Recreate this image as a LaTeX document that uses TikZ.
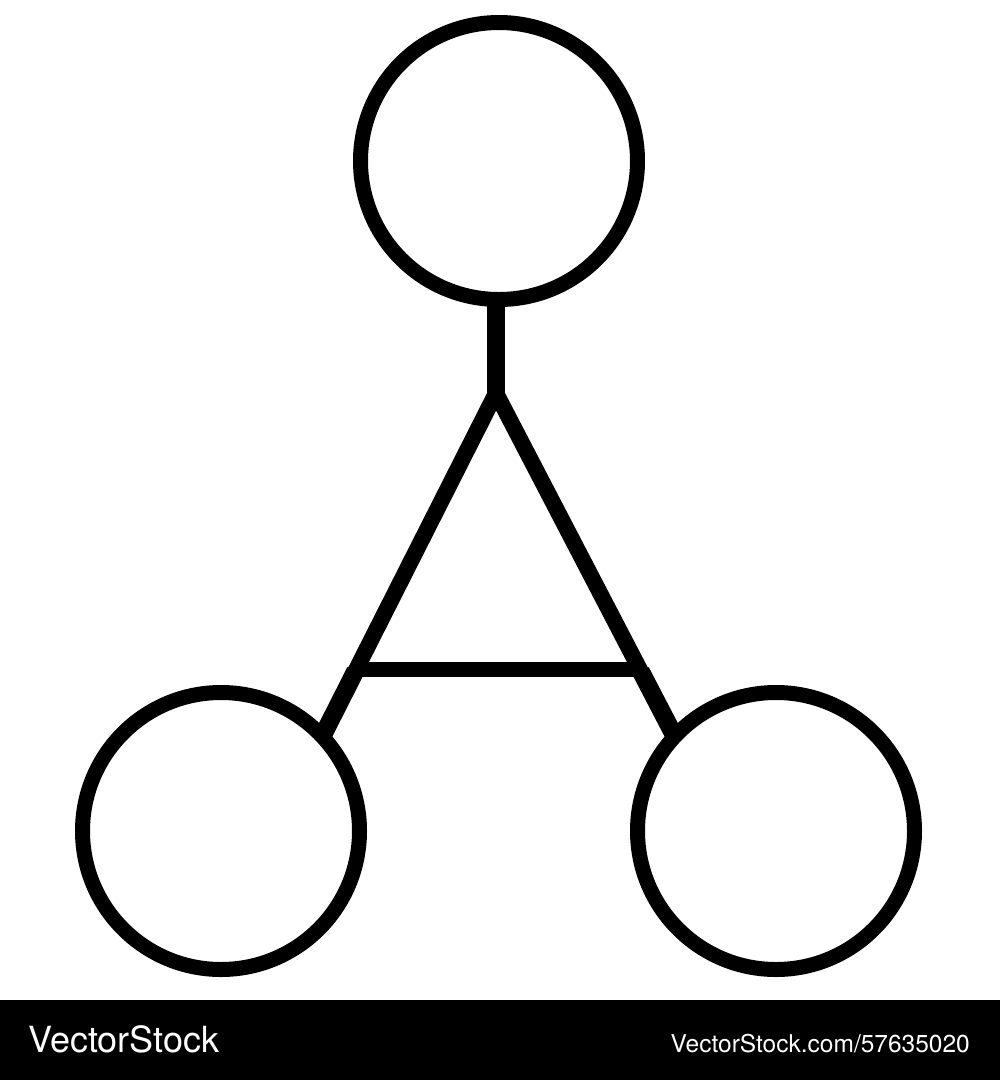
\documentclass[tikz,border=0pt]{standalone}
\usepackage{fontspec}
\setmainfont{TeX Gyre Heros}
\usetikzlibrary{calc}
\begin{document}
\begin{tikzpicture}[x=1pt,y=-1pt,
  ring/.style={circle,draw=black,line width=15pt,minimum size=277pt,inner sep=0pt,outer sep=0pt},
  upperleg/.style={line width=16pt,line join=miter},
  lowerleg/.style={line width=18pt},
  stem/.style={line width=18pt},
  crossbar/.style={line width=15pt},
  footer/.style={fill=black,draw=none},
  brand/.style={text=white,inner sep=0pt}]
\useasboundingbox (0,0) rectangle (1000,1080);
\fill[white] (0,0) rectangle (1000,1080);
% circles
\node[ring] (top) at (499,161) {};
\node[ring] (bl) at (221,831) {};
\node[ring] (br) at (776,831) {};
% connector geometry
\coordinate (apex) at (496,393);
\coordinate (lend) at (bl.43);
\coordinate (rend) at (br.137);
\coordinate (lbar) at ($(apex)!0.806!(lend)$);
\coordinate (rbar) at ($(apex)!0.806!(rend)$);
% crossbar (under the legs)
\draw[crossbar] (lbar) -- (rbar);
% stem
\draw[stem] (top.south -| apex) -- (apex);
% legs
\draw[upperleg] ($(apex)!0.815!(lend)$) -- (apex) -- ($(apex)!0.815!(rend)$);
\draw[lowerleg] ($(apex)!0.81!(lend)$) -- (lend);
\draw[lowerleg] ($(apex)!0.81!(rend)$) -- (rend);
% footer
\fill[footer] (0,1000) rectangle (1000,1080);
\node[brand,anchor=base west,font=\fontsize{36}{40}\selectfont] (logo) at (28,1052) {VectorStock};
\node[brand,anchor=base east,font=\fontsize{24.5}{28}\selectfont] (ref) at (970,1052) {VectorStock.com/57635020};
\end{tikzpicture}
\end{document}
